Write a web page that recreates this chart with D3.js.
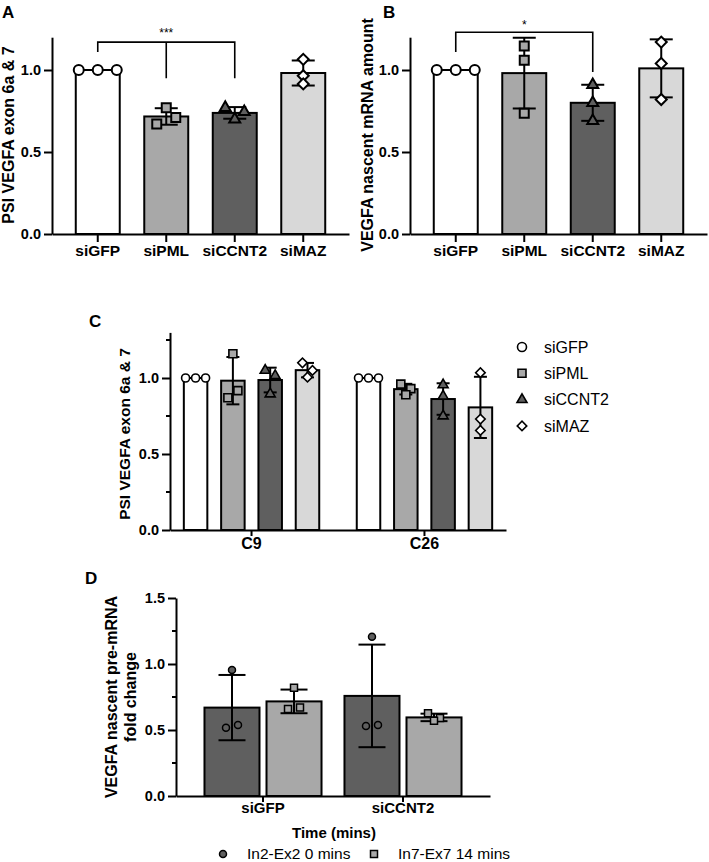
<!DOCTYPE html>
<html><head><meta charset="utf-8">
<script src="https://cdn.jsdelivr.net/npm/d3@7"></script>
<style>
html,body{margin:0;padding:0;background:#fff;}
svg{display:block;}
text{font-family:"Liberation Sans",Arial,Helvetica,sans-serif;fill:#000;}
</style></head><body>
<svg id="chart" width="709" height="862"></svg>
<script>
// ---------------- data ----------------
const groupsAB = ["siGFP", "siPML", "siCCNT2", "siMAZ"];
const panelAValues = [[1, 1, 1], [0.77, 0.67, 0.71], [0.77, 0.745, 0.70], [1.065, 0.965, 0.915]];
const panelBValues = [[1, 1, 1], [1.146, 1.06, 0.737], [0.91, 0.80, 0.69], [1.17, 1.04, 0.82]];
const panelCClones = ["C9", "C26"];
const panelCC9 = [[1, 1, 1], [1.16, 0.87, 0.917], [1.05, 1.015, 0.895], [1.10, 1.05, 1.005]];
const panelCC26 = [[1, 1, 1], [0.96, 0.93, 0.89], [0.955, 0.88, 0.75], [1.035, 0.73, 0.655]];
const panelDGroups = ["siGFP", "siCCNT2"];
const panelDSeries = ["In2-Ex2 0 mins", "In7-Ex7 14 mins"];
const panelDIn2Ex2 = [[0.955, 0.517, 0.537], [1.207, 0.53, 0.538]];
const panelDIn7Ex7 = [[0.82, 0.66, 0.67], [0.626, 0.59, 0.57]];
const ticksAB = [0, 0.5, 1.0];
const ticksCMajor = [0, 0.5, 1.0];
const ticksCMinor = [0.25, 0.75, 1.25];
const ticksDMajor = [0, 0.5, 1.0, 1.5];
const ticksDMinor = [0.25, 0.75, 1.25];
const labelA = "PSI VEGFA exon 6a & 7";
const labelB = "VEGFA nascent mRNA amount";
const labelC = "PSI VEGFA exon 6a & 7";
const labelD = ["VEGFA nascent pre-mRNA", "fold change"];
const labelDX = "Time (mins)";
const sigA = "***";
const sigB = "*";

// ---------------- styles ----------------
const barFill = ["#ffffff", "#a8a8a8", "#5f5f5f", "#d8d8d8"];
const markFill = ["#ffffff", "#a8a8a8", "#5f5f5f", "#ffffff"];
const shapes = ["circle", "square", "triangle", "diamond"];
const dFill = ["#5f5f5f", "#a8a8a8"];
const dShapes = ["circle", "square"];

const svg = d3.select("#chart");

function drawMarker(g, shape, x, y, s, fill, sw) {
  let type, size, rot = 0;
  if (shape === "circle") { type = d3.symbolCircle; size = Math.PI * (s / 2) * (s / 2); }
  else if (shape === "square") { type = d3.symbolSquare; size = s * s; }
  else if (shape === "triangle") { type = d3.symbolTriangle; size = Math.sqrt(3) / 4 * s * s; }
  else { type = d3.symbolSquare; size = s * s / 2; rot = 45; }
  g.append("path")
    .attr("d", d3.symbol().type(type).size(size)())
    .attr("transform", `translate(${x},${y}) rotate(${rot})`)
    .attr("fill", fill).attr("stroke", "#000").attr("stroke-width", sw);
}

function swarmOffsets(vals, y, sx, sy) {
  const idx = vals.map((v, i) => i).sort((a, b) => y(vals[a]) - y(vals[b]));
  const off = new Array(vals.length).fill(0);
  let cluster = [], startY = null;
  const flush = () => {
    cluster.sort((a, b) => a - b);
    const n = cluster.length;
    cluster.forEach((i, k) => off[i] = (k - (n - 1) / 2) * sx);
  };
  idx.forEach(i => {
    const py = y(vals[i]);
    if (startY === null || Math.abs(py - startY) >= sy) {
      if (cluster.length) flush();
      cluster = [i]; startY = py;
    } else cluster.push(i);
  });
  if (cluster.length) flush();
  return off;
}

function styleAxis(ax, fs) {
  ax.select(".domain").attr("stroke-width", 2).attr("stroke", "#000");
  ax.selectAll(".tick line").attr("stroke-width", 2).attr("stroke", "#000");
  ax.selectAll(".tick text").attr("font-size", fs).attr("font-weight", "bold").attr("fill", "#000")
    .attr("font-family", '"Liberation Sans",Arial,sans-serif');
}

function yAxis(g, y, x0, major, minor, fs) {
  const ax = g.append("g").attr("transform", `translate(${x0},0)`)
    .call(d3.axisLeft(y).tickValues(major).tickSize(8).tickSizeOuter(0).tickPadding(3).tickFormat(d3.format(".1f")));
  styleAxis(ax, fs);
  (minor || []).forEach(v => {
    g.append("line").attr("x1", x0 - 4).attr("x2", x0).attr("y1", y(v)).attr("y2", y(v))
      .attr("stroke", "#000").attr("stroke-width", 2);
  });
}

function xAxis(g, x, y0, tsize, pad, fs) {
  const ax = g.append("g").attr("transform", `translate(0,${y0})`)
    .call(d3.axisBottom(x).tickSize(tsize).tickSizeOuter(0).tickPadding(pad));
  styleAxis(ax, fs);
}

function barGroup(g, cx, bw, vals, y, fill, mfill, shape, msize, capW, sx, sy, msw) {
  const m = d3.mean(vals), sd = d3.deviation(vals);
  g.append("rect").attr("x", cx - bw / 2).attr("width", bw)
    .attr("y", y(m)).attr("height", y(0) - y(m))
    .attr("fill", fill).attr("stroke", "#000").attr("stroke-width", 2);
  if (sd > 1e-9) {
    g.append("line").attr("x1", cx).attr("x2", cx).attr("y1", y(m + sd)).attr("y2", y(m - sd))
      .attr("stroke", "#000").attr("stroke-width", 2);
    [m + sd, m - sd].forEach(v => g.append("line").attr("x1", cx - capW / 2).attr("x2", cx + capW / 2)
      .attr("y1", y(v)).attr("y2", y(v)).attr("stroke", "#000").attr("stroke-width", 2));
  }
  const off = swarmOffsets(vals, y, sx, sy);
  vals.forEach((v, i) => drawMarker(g, shape, cx + off[i], y(v), msize, mfill, msw));
}

function vLabel(g, txt, cx, cy, fs) {
  g.append("text").attr("transform", `translate(${cx},${cy}) rotate(-90)`)
    .attr("text-anchor", "middle").attr("dy", "0.35em")
    .attr("font-size", fs).attr("font-weight", "bold").text(txt);
}

function panelLetter(txt, x, y) {
  svg.append("text").attr("x", x).attr("y", y).attr("font-size", 17).attr("font-weight", "bold").text(txt);
}

// ---------------- panels A & B ----------------
function panelAB(values, xr, sig, bracket) {
  const g = svg.append("g");
  const x = d3.scaleBand().domain(groupsAB).range(xr).paddingInner(0.358).paddingOuter(0.347);
  const y = d3.scaleLinear().domain([0, 1.2]).range([234, 37.2]);
  groupsAB.forEach((c, i) => {
    barGroup(g, x(c) + x.bandwidth() / 2, x.bandwidth(), values[i], y, barFill[i], markFill[i], shapes[i],
      shapes[i] === "circle" ? 10 : (shapes[i] === "triangle" ? 11 : (shapes[i] === "diamond" ? 11 : 9)), 23, 19, 8, 2);
  });
  yAxis(g, y, xr[0], ticksAB, [], 14.5);
  xAxis(g, x, y(0), 8, 3, 15.5);
  // significance bracket
  const cxOf = c => x(c) + x.bandwidth() / 2;
  const xl = cxOf(bracket.from), xrr = cxOf(bracket.to);
  g.append("path")
    .attr("d", `M${xl},${y(bracket.leftEnd)}V${y(bracket.top)}H${xrr}V${y(bracket.rightEnd)}` +
      (bracket.mid ? `M${cxOf(bracket.mid)},${y(bracket.top)}V${y(bracket.rightEnd)}` : ""))
    .attr("fill", "none").attr("stroke", "#000").attr("stroke-width", 1.6);
  g.append("text").attr("x", (xl + xrr) / 2).attr("y", y(bracket.top) - bracket.starGap)
    .attr("text-anchor", "middle").attr("font-size", 12).text(sig);
  return { g, x, y };
}

panelAB(panelAValues, [52, 349], sigA,
  { from: "siGFP", to: "siCCNT2", mid: "siPML", top: 1.17, leftEnd: 1.11, rightEnd: 0.95, starGap: 5 });
vLabel(svg, labelA, 8, 135, 16);
panelLetter("A", 2, 18);

panelAB(panelBValues, [410, 707], sigB,
  { from: "siGFP", to: "siCCNT2", mid: null, top: 1.23, leftEnd: 1.11, rightEnd: 0.988, starGap: 3 });
vLabel(svg, labelB, 367, 135, 16);
panelLetter("B", 383, 18);

// ---------------- panel C ----------------
(function () {
  const g = svg.append("g");
  const x0 = d3.scaleBand().domain(panelCClones).range([170, 506]).paddingInner(0.217).paddingOuter(0.08);
  const x1 = d3.scaleBand().domain(groupsAB).range([0, x0.bandwidth()]).paddingInner(0.37).paddingOuter(0);
  const y = d3.scaleLinear().domain([0, 1.3]).range([530, 530 - 1.3 * 152]);
  const data = [panelCC9, panelCC26];
  panelCClones.forEach((cl, ci) => {
    groupsAB.forEach((c, i) => {
      const cx = x0(cl) + x1(c) + x1.bandwidth() / 2;
      barGroup(g, cx, x1.bandwidth(), data[ci][i], y, barFill[i], markFill[i], shapes[i],
        shapes[i] === "circle" ? 8 : (shapes[i] === "triangle" ? 10 : (shapes[i] === "diamond" ? 9.5 : 8)), 13, 10, 8, 1.6);
    });
  });
  yAxis(g, y, 170, ticksCMajor, ticksCMinor, 14.5);
  xAxis(g, x0, y(0), 6, 2, 16);
  vLabel(g, labelC, 125, 434, 15.5);
  // legend
  groupsAB.forEach((c, i) => {
    const ly = 347 + i * 26.3;
    drawMarker(g, shapes[i], 522, ly, shapes[i] === "circle" ? 9 : (shapes[i] === "triangle" ? 10 : (shapes[i] === "diamond" ? 9.5 : 8)), markFill[i], 1.6);
    g.append("text").attr("x", 544).attr("y", ly + 5.8).attr("font-size", 16).text(c);
  });
})();
panelLetter("C", 89, 327);

// ---------------- panel D ----------------
(function () {
  const g = svg.append("g");
  const x0 = d3.scaleBand().domain(panelDGroups).range([176, 490]).paddingInner(0.164).paddingOuter(0.2035);
  const x1 = d3.scaleBand().domain(panelDSeries).range([0, x0.bandwidth()]).paddingInner(0.113).paddingOuter(0);
  const y = d3.scaleLinear().domain([0, 1.5]).range([796, 598]);
  const series = [panelDIn2Ex2, panelDIn7Ex7];
  panelDGroups.forEach((grp, gi) => {
    panelDSeries.forEach((s, si) => {
      const cx = x0(grp) + x1(s) + x1.bandwidth() / 2;
      barGroup(g, cx, x1.bandwidth(), series[si][gi], y, dFill[si], dFill[si], dShapes[si],
        7, 27, 12, 6, 1.5);
    });
  });
  yAxis(g, y, 176, ticksDMajor, ticksDMinor, 14.5);
  xAxis(g, x0, y(0), 6, 0, 15);
  g.append("text").attr("transform", "translate(111.5,697) rotate(-90)").attr("text-anchor", "middle")
    .attr("dy", "0.35em").attr("font-size", 16).attr("font-weight", "bold").text(labelD[0]);
  g.append("text").attr("transform", "translate(130,697) rotate(-90)").attr("text-anchor", "middle")
    .attr("dy", "0.35em").attr("font-size", 16).attr("font-weight", "bold").text(labelD[1]);
  g.append("text").attr("x", 334).attr("y", 838).attr("text-anchor", "middle")
    .attr("font-size", 15).attr("font-weight", "bold").text(labelDX);
  // legend
  const legX = [223, 374];
  panelDSeries.forEach((s, si) => {
    drawMarker(g, dShapes[si], legX[si], 854, 7, dFill[si], 1.5);
    g.append("text").attr("x", legX[si] + 24).attr("y", 858.5).attr("font-size", 15.5).text(s);
  });
})();
panelLetter("D", 85, 584);
</script>
</body></html>
